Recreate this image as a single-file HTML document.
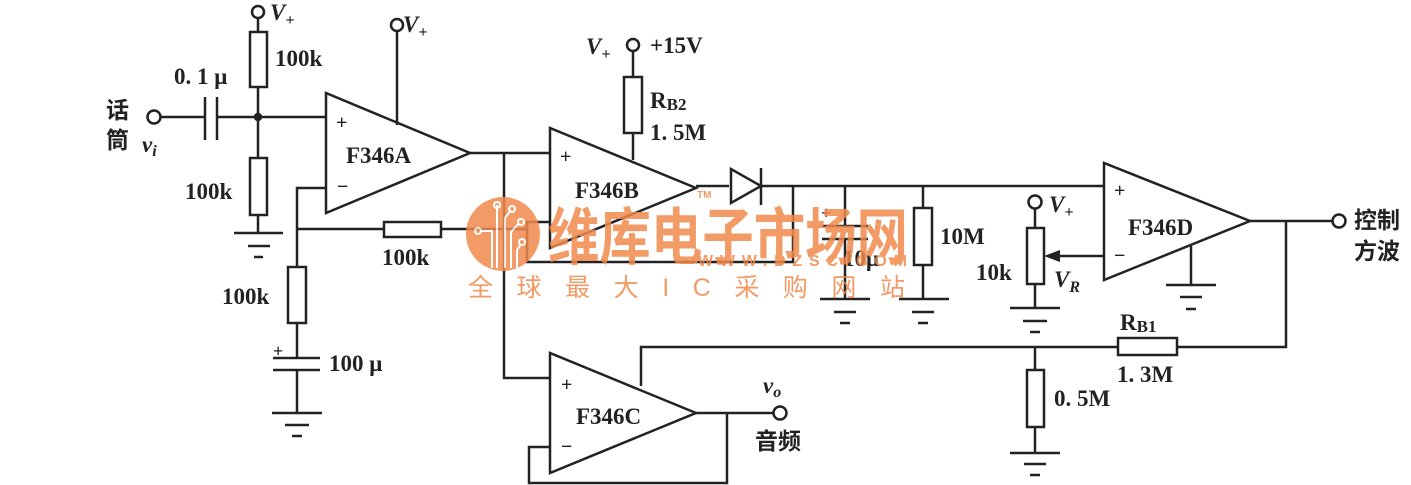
<!DOCTYPE html>
<html><head><meta charset="utf-8"><style>
html,body{margin:0;padding:0;background:#fff;}
svg{display:block;}
text{font-family:"Liberation Serif","Noto Serif CJK SC",serif;font-weight:bold;fill:#222;}
.cjk{font-family:"Liberation Sans","Noto Sans CJK SC",sans-serif;font-weight:bold;}
</style></head><body>
<svg width="1411" height="485" viewBox="0 0 1411 485" xmlns="http://www.w3.org/2000/svg">
<g stroke="#222" stroke-width="2.5" fill="none">
<circle cx="154" cy="117" r="6.5" fill="#fff"/>
<line x1="160" y1="117" x2="205" y2="117"/>
<line x1="205" y1="97" x2="205" y2="140"/>
<line x1="217" y1="97" x2="217" y2="140"/>
<line x1="217" y1="117" x2="326" y2="117"/>
<circle cx="258" cy="117" r="3" fill="#222"/>
<circle cx="258" cy="12" r="6" fill="#fff"/>
<line x1="258" y1="18" x2="258" y2="32"/>
<rect x="250" y="32" width="17" height="55"/>
<line x1="258" y1="87" x2="258" y2="158"/>
<rect x="250" y="158" width="17" height="57"/>
<line x1="258" y1="215" x2="258" y2="233"/>
<line x1="234" y1="233" x2="283" y2="233"/>
<line x1="248" y1="246" x2="270" y2="246"/>
<line x1="254" y1="257" x2="263" y2="257"/>
<polygon points="326,93 326,213 470,153"/>
<circle cx="397" cy="25" r="6" fill="#fff"/>
<line x1="397" y1="31" x2="397" y2="125"/>
<polyline points="326,188 297,188 297,267"/>
<rect x="288" y="267" width="18" height="56"/>
<line x1="297" y1="323" x2="297" y2="358"/>
<line x1="273" y1="358" x2="320" y2="358"/>
<line x1="273" y1="370" x2="320" y2="370"/>
<line x1="297" y1="370" x2="297" y2="413"/>
<line x1="272" y1="413" x2="322" y2="413"/>
<line x1="285" y1="425" x2="309" y2="425"/>
<line x1="292" y1="436" x2="302" y2="436"/>
<line x1="297" y1="229" x2="384" y2="229"/>
<rect x="384" y="222" width="57" height="15"/>
<line x1="441" y1="229" x2="527" y2="229"/>
<polyline points="550,222 527,222 527,262 793,262 793,185"/>
<line x1="470" y1="153" x2="550" y2="153"/>
<polyline points="504,153 504,378 550,378"/>
<polygon points="550,128 550,248 696,188"/>
<circle cx="633" cy="45" r="6" fill="#fff"/>
<line x1="633" y1="51" x2="633" y2="77"/>
<rect x="624" y="77" width="18" height="56"/>
<line x1="633" y1="133" x2="633" y2="160"/>
<line x1="696" y1="186" x2="729" y2="186"/>
<polygon points="731,169 731,203 761,186"/>
<line x1="761" y1="168" x2="761" y2="205"/>
<line x1="761" y1="186" x2="1104" y2="186"/>
<line x1="845" y1="186" x2="845" y2="226"/>
<line x1="822" y1="226" x2="868" y2="226"/>
<line x1="822" y1="239" x2="868" y2="239"/>
<line x1="845" y1="239" x2="845" y2="299"/>
<line x1="820" y1="299" x2="870" y2="299"/>
<line x1="834" y1="312" x2="856" y2="312"/>
<line x1="840" y1="323" x2="850" y2="323"/>
<line x1="923" y1="186" x2="923" y2="208"/>
<rect x="914" y="208" width="18" height="57"/>
<line x1="923" y1="265" x2="923" y2="299"/>
<line x1="899" y1="299" x2="949" y2="299"/>
<line x1="912" y1="312" x2="934" y2="312"/>
<line x1="918" y1="323" x2="928" y2="323"/>
<circle cx="1035" cy="202" r="6.5" fill="#fff"/>
<line x1="1035" y1="208" x2="1035" y2="228"/>
<rect x="1027" y="228" width="17" height="56"/>
<line x1="1035" y1="284" x2="1035" y2="308"/>
<line x1="1010" y1="308" x2="1060" y2="308"/>
<line x1="1023" y1="321" x2="1047" y2="321"/>
<line x1="1030" y1="332" x2="1040" y2="332"/>
<line x1="1104" y1="256" x2="1058" y2="256"/>
<polygon points="1104,163 1104,280 1250,221"/>
<line x1="1191" y1="246" x2="1191" y2="285"/>
<line x1="1166" y1="285" x2="1216" y2="285"/>
<line x1="1180" y1="297" x2="1202" y2="297"/>
<line x1="1186" y1="309" x2="1196" y2="309"/>
<line x1="1250" y1="221" x2="1332" y2="221"/>
<circle cx="1339" cy="221" r="6.5" fill="#fff"/>
<polyline points="1286,221 1286,347 1177,347"/>
<rect x="1118" y="338" width="59" height="17"/>
<polyline points="1118,347 641,347 641,386"/>
<line x1="1035" y1="347" x2="1035" y2="370"/>
<rect x="1027" y="370" width="17" height="57"/>
<line x1="1035" y1="427" x2="1035" y2="453"/>
<line x1="1010" y1="453" x2="1060" y2="453"/>
<line x1="1024" y1="464" x2="1046" y2="464"/>
<line x1="1030" y1="475" x2="1040" y2="475"/>
<polygon points="550,353 550,473 696,413"/>
<polyline points="550,447 529,447 529,483 727,483 727,413"/>
<line x1="696" y1="413" x2="773" y2="413"/>
<circle cx="780" cy="413" r="6.5" fill="#fff"/>
</g>
<polygon points="1044,256 1060,250 1060,262" fill="#222"/>
<g font-size="23">
<text x="174" y="84">0. 1 μ</text>
<text x="275" y="66">100k</text>
<text x="185" y="199">100k</text>
<text x="222" y="304">100k</text>
<text x="382" y="265">100k</text>
<text x="329" y="371">100 μ</text>
<text x="346" y="163">F346A</text>
<text x="575" y="198">F346B</text>
<text x="576" y="424">F346C</text>
<text x="1128" y="235">F346D</text>
<text x="650" y="53">+15V</text>
<text x="650" y="108">R<tspan font-size="17" dy="2">B2</tspan></text>
<text x="650" y="140">1. 5M</text>
<text x="940" y="244">10M</text>
<text x="843" y="266">10μ</text>
<text x="976" y="280">10k</text>
<text x="1120" y="330">R<tspan font-size="17" dy="2">B1</tspan></text>
<text x="1117" y="382">1. 3M</text>
<text x="1054" y="406">0. 5M</text>
<text x="270" y="20" font-style="italic">V<tspan font-size="16" dy="5">+</tspan></text>
<text x="403" y="32" font-style="italic">V<tspan font-size="16" dy="5">+</tspan></text>
<text x="586" y="54" font-style="italic">V<tspan font-size="16" dy="5">+</tspan></text>
<text x="1049" y="212" font-style="italic">V<tspan font-size="16" dy="5">+</tspan></text>
<text x="1054" y="287" font-style="italic">V<tspan font-size="16" dy="5">R</tspan></text>
<text x="142" y="152" font-style="italic">v<tspan font-size="16" dy="4">i</tspan></text>
<text x="763" y="393" font-style="italic">v<tspan font-size="16" dy="4">o</tspan></text>
<text x="336" y="129" font-size="20">+</text>
<text x="337" y="193" font-size="20">−</text>
<text x="560" y="163" font-size="20">+</text>
<text x="561" y="391" font-size="20">+</text>
<text x="561" y="453" font-size="20">−</text>
<text x="1114" y="197" font-size="20">+</text>
<text x="1114" y="262" font-size="20">−</text>
<text x="273" y="357" font-size="18">+</text>
<text x="821" y="219" font-size="18">+</text>
</g>
<g class="cjk" font-size="23">
<text class="cjk" x="106" y="118">话</text>
<text class="cjk" x="106" y="148">筒</text>
<text class="cjk" x="755" y="449">音频</text>
<text class="cjk" x="1354" y="228">控制</text>
<text class="cjk" x="1354" y="259">方波</text>
</g>
<g opacity="0.85">
<circle cx="503" cy="234" r="37" fill="#f08a4c"/>
<g stroke="#fff" stroke-width="2" fill="none">
<polyline points="497,205 497,268"/><circle cx="497" cy="205" r="3"/>
<polyline points="480,231 492,231 492,268"/><circle cx="478" cy="231" r="3"/>
<polyline points="511,210 505,218 505,268"/><circle cx="512" cy="209" r="3"/>
<polyline points="519,223 511,232 511,268"/><circle cx="521" cy="222" r="3"/>
<polyline points="521,244 517,250 517,268"/><circle cx="522" cy="242" r="3"/>
</g>
<text class="cjk" x="548" y="259" font-size="62" style="fill:#f08a4c" textLength="360" lengthAdjust="spacingAndGlyphs">维库电子市场网</text>
<text x="698" y="266" font-size="16" style="fill:#f08a4c;font-family:'Liberation Sans',sans-serif;font-weight:bold" textLength="209" lengthAdjust="spacing">WWW.DZSC.COM</text>
<text x="697" y="198" font-size="10" style="fill:#f08a4c;font-family:'Liberation Sans',sans-serif">TM</text>
<text class="cjk" x="468" y="296" font-size="25" style="fill:#f08a4c;font-weight:normal" textLength="437" lengthAdjust="spacing">全球最大IC采购网站</text>
</g>
</svg>
</body></html>
